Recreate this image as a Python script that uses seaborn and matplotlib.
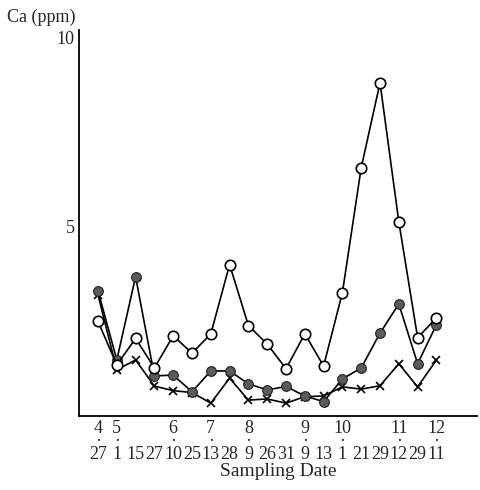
import matplotlib
matplotlib.use("Agg")
import matplotlib.pyplot as plt
import seaborn as sns
import pandas as pd

# Sampling dates (month, day)
months = [4, 5, 5, 5, 6, 6, 7, 7, 8, 8, 8, 9, 9, 10, 10, 10, 11, 11, 12]
days = [27, 1, 15, 27, 10, 25, 13, 28, 9, 26, 31, 9, 13, 1, 21, 29, 12, 29, 11]

# Ca (ppm)
ca_open = [2.5, 1.35, 2.05, 1.27, 2.12, 1.66, 2.17, 4.0, 2.39, 1.9, 1.25,
           2.17, 1.32, 3.26, 6.56, 8.8, 5.13, 2.07, 2.59]
ca_filled = [3.31, 1.48, 3.68, 1.06, 1.08, 0.64, 1.19, 1.19, 0.85, 0.69, 0.78,
             0.53, 0.38, 0.98, 1.27, 2.19, 2.96, 1.38, 2.41]
ca_cross = [3.2, 1.22, 1.48, 0.79, 0.67, 0.62, 0.34, 1.0, 0.42, 0.45, 0.34,
            0.51, 0.53, 0.77, 0.71, 0.8, 1.38, 0.77, 1.48]

sns.set_style("white")
plt.rcParams['font.family'] = ['Liberation Serif', 'DejaVu Serif']

idx = list(range(len(days)))
df = pd.DataFrame({'idx': idx, 'open': ca_open, 'filled': ca_filled, 'cross': ca_cross})

fig = plt.figure(figsize=(4.8, 4.9), dpi=100)
ax = fig.add_axes([0.1646, 0.151, 0.83, 0.788])

line_kw = dict(color='black', linewidth=1.2)
sns.lineplot(data=df, x='idx', y='cross', ax=ax, marker='x', markersize=6,
             markeredgewidth=1.2, markeredgecolor='black', **line_kw)
sns.lineplot(data=df, x='idx', y='filled', ax=ax, marker='o', markersize=7,
             markerfacecolor='#5a5a5a', markeredgecolor='#222222', markeredgewidth=0.8, **line_kw)
sns.lineplot(data=df, x='idx', y='open', ax=ax, marker='o', markersize=7.5,
             markerfacecolor='white', markeredgecolor='black', markeredgewidth=1.2, **line_kw)

ax.set_xlim(-1.01, 20.18)
ax.set_ylim(0, 10.2)

ax.set_yticks([5, 10])
ax.set_yticklabels(['5', '10'], fontsize=13)
ax.tick_params(axis='y', direction='in', length=7, width=1.3, pad=3)

labels = []
prev = None
for m, d in zip(months, days):
    if m != prev:
        labels.append(f"{m}\n·\n{d}")
    else:
        labels.append(f"\n\n{d}")
    prev = m
ax.set_xticks(idx)
ax.set_xticklabels(labels, fontsize=13, linespacing=0.68)
ax.tick_params(axis='x', length=0, pad=3)

ax.set_xlabel('Sampling Date', fontsize=14, labelpad=0)
ax.set_ylabel('')
fig.text(0.015, 0.965, 'Ca (ppm)', fontsize=13, ha='left', va='center')

for s in ['top', 'right']:
    ax.spines[s].set_visible(False)
for s in ['left', 'bottom']:
    ax.spines[s].set_linewidth(1.3)
    ax.spines[s].set_color('black')

if ax.get_legend():
    ax.get_legend().remove()

fig.savefig('out.png', dpi=100)
